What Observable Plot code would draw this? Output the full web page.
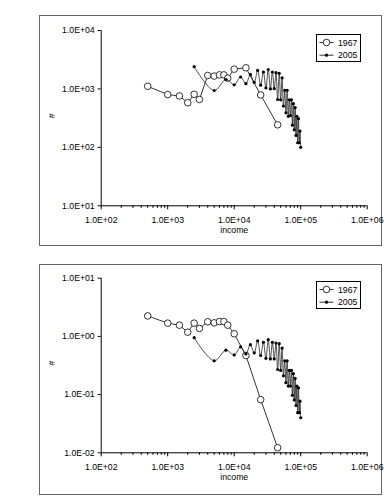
<!DOCTYPE html>
<html><head><meta charset="utf-8">
<script src="https://cdn.jsdelivr.net/npm/d3@7"></script>
<script src="https://cdn.jsdelivr.net/npm/@observablehq/plot@0.6"></script>
<style>
body{margin:0;background:#fff;font-family:"Liberation Sans",Arial,sans-serif;width:389px;height:496px;overflow:hidden;position:relative;}
.panel{position:absolute;left:39px;width:341px;height:229px;border:1px solid #666;background:#fff;overflow:visible;}
.panel svg{display:block;overflow:visible;}
.legend{position:absolute;border:1px solid #000;background:#fff;width:43px;height:26px;}
.legend svg{display:block;}
</style></head><body>
<div id="top" class="panel" style="top:15px"></div>
<div id="bottom" class="panel" style="top:264px"></div>
<script>
const seriesNames = ["1967", "2005"];
const income1967 = [500, 1000, 1500, 2000, 2500, 3000, 4000, 5000, 6000, 7000, 8000, 10000, 15000, 25000, 45000];
const count1967 = [1110, 800, 760, 580, 810, 660, 1700, 1660, 1740, 1740, 1530, 2180, 2300, 790, 243];
const density1967 = [2.25, 1.69, 1.56, 1.18, 1.69, 1.37, 1.78, 1.71, 1.80, 1.80, 1.56, 1.11, 0.47, 0.082, 0.0122];
const income2005 = [2500, 5000, 7500, 10000, 12500, 15000, 17500, 20000, 22500, 25000,
  27500, 30000, 32500, 35000, 37500, 40000, 42500, 45000, 47500, 50000,
  52500, 55000, 57500, 60000, 62500, 65000, 67500, 70000, 72500, 75000,
  77500, 80000, 82500, 85000, 87500, 90000, 92500, 95000, 97500, 100000];
const count2005 = [2400, 940, 1450, 1180, 1600, 1230, 1770, 1290, 2070, 1160,
  1950, 1040, 2150, 1000, 1950, 1010, 1900, 660, 1850, 650,
  1550, 510, 950, 390, 950, 340, 650, 350, 650, 240,
  560, 200, 480, 160, 340, 120, 310, 120, 190, 100];
const density2005 = [0.95, 0.38, 0.58, 0.48, 0.66, 0.50, 0.72, 0.52, 0.84, 0.47,
  0.79, 0.42, 0.88, 0.41, 0.79, 0.41, 0.77, 0.27, 0.75, 0.26,
  0.63, 0.21, 0.38, 0.16, 0.38, 0.14, 0.26, 0.14, 0.26, 0.097,
  0.23, 0.081, 0.19, 0.065, 0.14, 0.049, 0.13, 0.049, 0.077, 0.040];
const xTicks = [1e2, 1e3, 1e4, 1e5, 1e6];
const xTickLabels = ["1.0E+02", "1.0E+03", "1.0E+04", "1.0E+05", "1.0E+06"];
const yTicksTop = [1e1, 1e2, 1e3, 1e4];
const yTickLabelsTop = ["1.0E+01", "1.0E+02", "1.0E+03", "1.0E+04"];
const yTicksBottom = [1e-2, 1e-1, 1e0, 1e1];
const yTickLabelsBottom = ["1.0E-02", "1.0E-01", "1.0E+00", "1.0E+01"];
const xLabel = "income";
const yLabel = "#";

const FONT = '"Liberation Sans", Arial, sans-serif';
const minorX = [];
for (let e = 2; e < 6; e++) for (let m = 2; m <= 9; m++) minorX.push(m * Math.pow(10, e));

function panel(el, y1967, y2005, yTicks, yTickLabels, marginTop, marginBottom) {
  const chart = Plot.plot({
    width: 341, height: 229,
    marginLeft: 60.7, marginRight: 14.3, marginTop, marginBottom,
    style: {fontFamily: FONT, fontSize: "8.7px", color: "#000", background: "transparent", overflow: "visible"},
    x: {type: "log", domain: [xTicks[0], xTicks[xTicks.length - 1]], label: null},
    y: {type: "log", domain: [yTicks[0], yTicks[yTicks.length - 1]], label: null},
    marks: [
      Plot.axisX(minorX, {tickSize: 2.5, tickFormat: () => "", label: null, stroke: "#000"}),
      Plot.axisX(xTicks, {tickSize: 4, tickPadding: 7, tickFormat: d => xTickLabels[xTicks.indexOf(d)], label: null, stroke: "#000"}),
      Plot.axisY(yTicks, {tickSize: 3, tickPadding: 3.5, tickFormat: d => yTickLabels[yTicks.indexOf(d)], label: null, stroke: "#000"}),
      Plot.ruleX([xTicks[0]], {stroke: "#000", strokeWidth: 1}),
      Plot.ruleY([yTicks[0]], {stroke: "#000", strokeWidth: 1}),
      Plot.text([xLabel], {frameAnchor: "bottom", dy: 27, fontSize: 8.7}),
      Plot.text([yLabel], {frameAnchor: "left", dx: -49, rotate: -90, fontSize: 8.7}),
      Plot.line(income1967, {x: income1967, y: y1967, stroke: "#000", strokeWidth: 0.8}),
      Plot.dot(income1967, {x: income1967, y: y1967, r: 3.3, stroke: "#000", fill: "#fff", strokeWidth: 0.8}),
      Plot.line(income2005, {x: income2005, y: y2005, stroke: "#222", strokeWidth: 0.8, curve: "catmull-rom"}),
      Plot.dot(income2005, {x: income2005, y: y2005, r: 1.6, fill: "#000"})
    ]
  });
  el.appendChild(chart);
}

panel(document.getElementById("top"), count1967, count2005, yTicksTop, yTickLabelsTop, 14, 39.7);
panel(document.getElementById("bottom"), density1967, density2005, yTicksBottom, yTickLabelsBottom, 12.7, 41.7);

function legend(left, top) {
  const div = document.createElement("div");
  div.className = "legend";
  div.style.left = left + "px";
  div.style.top = top + "px";
  const ns = "http://www.w3.org/2000/svg";
  const svg = document.createElementNS(ns, "svg");
  svg.setAttribute("width", 43); svg.setAttribute("height", 26);
  seriesNames.forEach((name, i) => {
    const y = 7.5 + i * 12.7;
    const ln = document.createElementNS(ns, "line");
    ln.setAttribute("x1", 2.5); ln.setAttribute("x2", 16.5);
    ln.setAttribute("y1", y); ln.setAttribute("y2", y);
    ln.setAttribute("stroke", "#000"); ln.setAttribute("stroke-width", 0.8);
    svg.appendChild(ln);
    const c = document.createElementNS(ns, "circle");
    c.setAttribute("cx", 9.5); c.setAttribute("cy", y);
    if (i === 0) { c.setAttribute("r", 3.3); c.setAttribute("fill", "#fff"); c.setAttribute("stroke", "#000"); c.setAttribute("stroke-width", 0.8); }
    else { c.setAttribute("r", 1.6); c.setAttribute("fill", "#000"); }
    svg.appendChild(c);
    const t = document.createElementNS(ns, "text");
    t.setAttribute("x", 21); t.setAttribute("y", y);
    t.setAttribute("dy", "0.35em");
    t.setAttribute("font-size", "8.7px");
    t.setAttribute("font-family", FONT);
    t.textContent = name;
    svg.appendChild(t);
  });
  div.appendChild(svg);
  document.body.appendChild(div);
}
legend(316, 34);
legend(316, 281);
</script>
</body></html>
